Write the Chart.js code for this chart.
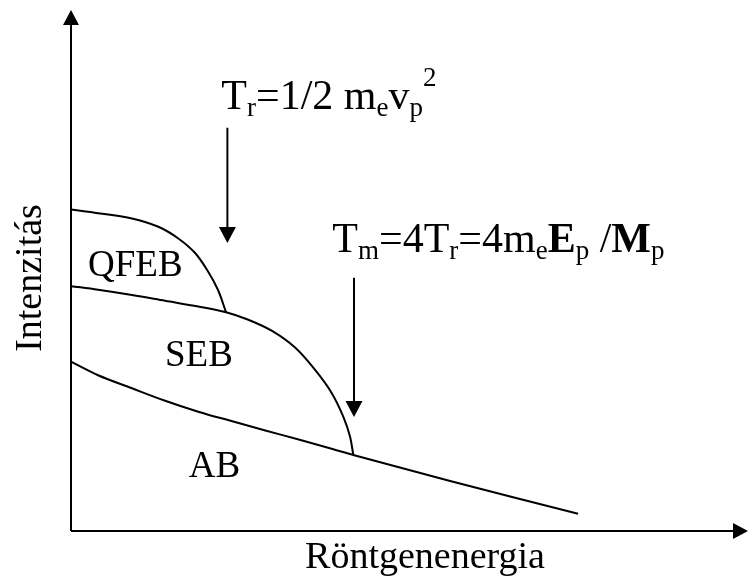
<!DOCTYPE html>
<html>
<head>
<meta charset="utf-8">
<script src="https://cdn.jsdelivr.net/npm/chart.js@4/dist/chart.umd.min.js"></script>
<style>
  html, body { margin: 0; padding: 0; background: #fff; }
  canvas { display: block; }
</style>
</head>
<body>
<canvas id="c" width="750" height="578"></canvas>
<script>
// Schematic X-ray spectrum: energy (arbitrary units 0..100) vs. intensity (0..100)
const energyQFEB    = [0, 4.0, 9.0, 12.9, 15.8, 18.3, 20.2, 21.7, 22.9];
const intensityQFEB = [61.7, 61.0, 60.0, 58.4, 56.2, 53.4, 49.9, 46.3, 42.0];

const energySEB    = [0, 4.0, 9.0, 13.9, 18.8, 22.9, 26.1, 29.7, 33.1, 36.0, 38.5, 40.2, 41.2, 41.7];
const intensitySEB = [47.0, 46.3, 45.3, 44.2, 43.1, 42.0, 40.6, 38.4, 35.2, 31.0, 26.5, 22.0, 18.2, 14.6];

const energyAB    = [0, 4.0, 9.0, 13.9, 18.8, 23.7, 28.7, 33.5, 38.5, 41.7, 56.0, 74.9];
const intensityAB = [32.5, 29.9, 27.4, 25.0, 22.9, 21.1, 19.3, 17.6, 15.8, 14.6, 9.6, 3.3];

const regionNames = ['QFEB', 'SEB', 'AB'];
const axisTitles  = ['Röntgenenergia', 'Intenzitás'];

// Cut-off energies marked with arrows: T_r and T_m
const cutoffEnergy = [23.1, 41.8];

// Formula pieces: [text, kind]  kind: n = normal, sub, sup, b = bold
const formulaTr = [['T','n'],['r','sub'],['=1/2 m','n'],['e','sub'],['v','n'],['p','sub'],['2','sup']];
const formulaTm = [['T','n'],['m','sub'],['=4T','n'],['r','sub'],['=4m','n'],['e','sub'],['E','b'],['p','sub'],[' /','n'],['M','b'],['p','sub']];

function pts(xs, ys) { return xs.map((v, i) => ({ x: v, y: ys[i] })); }

const curve = (data) => ({
  data, showLine: true, borderColor: '#000', borderWidth: 2,
  pointRadius: 0, tension: 0.35, fill: false
});

const SERIF = '"Liberation Serif", "Times New Roman", serif';

function richText(ctx, x, y, parts) {
  let cx = x;
  for (const [t, kind] of parts) {
    let size = 42, dy = 0, weight = '';
    if (kind === 'sub') { size = 27; dy = 7; }
    if (kind === 'sup') { size = 27; dy = -23; }
    if (kind === 'b') { weight = 'bold '; }
    ctx.font = weight + size + 'px ' + SERIF;
    ctx.fillText(t, cx, y + dy);
    cx += ctx.measureText(t).width;
  }
}

function arrowDown(ctx, x, yTop, yTip) {
  ctx.beginPath();
  ctx.moveTo(x, yTop);
  ctx.lineTo(x, yTip - 12);
  ctx.stroke();
  ctx.beginPath();
  ctx.moveTo(x - 8.5, yTip - 16);
  ctx.lineTo(x + 8.5, yTip - 16);
  ctx.lineTo(x, yTip);
  ctx.closePath();
  ctx.fill();
}

const schematic = {
  id: 'schematic',
  afterDraw(chart) {
    const { ctx, chartArea: a, scales: { x, y } } = chart;
    ctx.save();
    ctx.strokeStyle = '#000';
    ctx.fillStyle = '#000';
    ctx.lineWidth = 2;

    // axes with arrowheads
    ctx.beginPath();
    ctx.moveTo(a.left, a.bottom);
    ctx.lineTo(a.left, a.top + 12);
    ctx.moveTo(a.left, a.bottom);
    ctx.lineTo(a.right - 12, a.bottom);
    ctx.stroke();
    ctx.beginPath();
    ctx.moveTo(a.left, a.top);
    ctx.lineTo(a.left - 8, a.top + 15);
    ctx.lineTo(a.left + 8, a.top + 15);
    ctx.closePath();
    ctx.fill();
    ctx.beginPath();
    ctx.moveTo(a.right, a.bottom);
    ctx.lineTo(a.right - 15, a.bottom - 8);
    ctx.lineTo(a.right - 15, a.bottom + 8);
    ctx.closePath();
    ctx.fill();

    // cut-off arrows
    arrowDown(ctx, x.getPixelForValue(cutoffEnergy[0]), y.getPixelForValue(77.4), y.getPixelForValue(55.3));
    arrowDown(ctx, x.getPixelForValue(cutoffEnergy[1]), y.getPixelForValue(48.6), y.getPixelForValue(21.9));

    // formulas
    ctx.textAlign = 'left';
    ctx.textBaseline = 'alphabetic';
    richText(ctx, x.getPixelForValue(22.2), y.getPixelForValue(81.0), formulaTr);
    richText(ctx, x.getPixelForValue(38.6), y.getPixelForValue(53.6), formulaTm);

    // region names
    ctx.textAlign = 'center';
    ctx.font = '37px ' + SERIF;
    ctx.fillText(regionNames[0], x.getPixelForValue(9.5), y.getPixelForValue(48.9));
    ctx.fillText(regionNames[1], x.getPixelForValue(18.9), y.getPixelForValue(31.7));
    ctx.fillText(regionNames[2], x.getPixelForValue(21.2), y.getPixelForValue(10.4));

    // axis titles
    ctx.font = '38px ' + SERIF;
    ctx.fillText(axisTitles[0], 425, 568);
    ctx.translate(41, 278);
    ctx.rotate(-Math.PI / 2);
    ctx.fillText(axisTitles[1], 0, 0);
    ctx.restore();
  }
};

new Chart(document.getElementById('c'), {
  type: 'scatter',
  data: {
    datasets: [
      curve(pts(energyQFEB, intensityQFEB)),
      curve(pts(energySEB, intensitySEB)),
      curve(pts(energyAB, intensityAB))
    ]
  },
  options: {
    responsive: false,
    animation: false,
    devicePixelRatio: 1,
    layout: { padding: { left: 71, right: 2, top: 10, bottom: 47 } },
    plugins: { legend: { display: false }, tooltip: { enabled: false } },
    scales: {
      x: { type: 'linear', min: 0, max: 100, display: false },
      y: { type: 'linear', min: 0, max: 100, display: false }
    }
  },
  plugins: [schematic]
});
</script>
</body>
</html>
